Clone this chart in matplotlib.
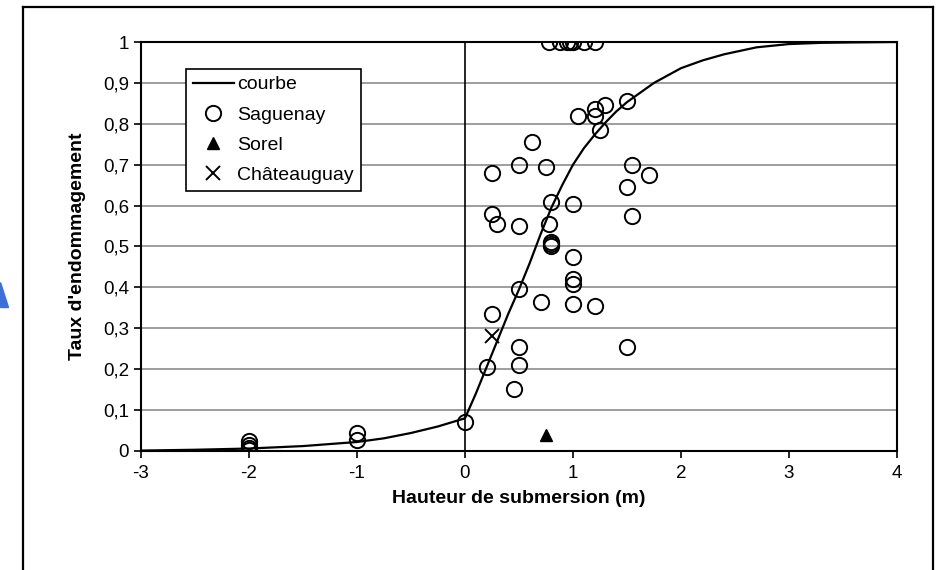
import matplotlib.pyplot as plt
from matplotlib.patches import Polygon
import numpy as np

plt.rcParams['font.family'] = ['Liberation Sans', 'DejaVu Sans']
plt.rcParams['axes.unicode_minus'] = False

# courbe
courbe_x = [-3, -2.5, -2, -1.5, -1, -0.75, -0.5, -0.25, 0, 0.1, 0.2, 0.3, 0.4,
            0.5, 0.6, 0.7, 0.8, 0.9, 1.0, 1.1, 1.2, 1.3, 1.4, 1.5, 1.75, 2.0,
            2.2, 2.4, 2.7, 3.0, 3.3, 3.6, 4.0]
courbe_y = [0.001, 0.003, 0.006, 0.012, 0.022, 0.031, 0.044, 0.06, 0.08, 0.14,
            0.205, 0.27, 0.335, 0.395, 0.46, 0.53, 0.595, 0.65, 0.70, 0.74,
            0.773, 0.803, 0.83, 0.853, 0.90, 0.936, 0.955, 0.97, 0.987, 0.995,
            0.998, 0.999, 1.0]

sag_x = [-2, -2, -2, -2, -1, -1, 0,
         0.78, 0.88, 0.94, 0.97, 1.0, 1.1, 1.2,
         0.25, 0.25, 0.3, 0.5, 0.5, 0.62, 0.75, 0.8, 0.78, 0.8, 0.8, 0.8,
         1.0, 1.0, 1.0, 1.0, 1.0, 1.2, 0.7, 0.5, 0.25, 0.2, 0.5, 0.5, 0.45,
         1.05, 1.2, 1.2, 1.3, 1.5, 1.25, 1.55, 1.7, 1.5, 1.55, 1.5]
sag_y = [0.025, 0.015, 0.008, 0.003, 0.045, 0.028, 0.07,
         1, 1, 1, 1, 1, 1, 1,
         0.68, 0.58, 0.555, 0.70, 0.55, 0.755, 0.695, 0.61, 0.555, 0.512, 0.507, 0.502,
         0.605, 0.475, 0.42, 0.408, 0.36, 0.355, 0.365, 0.395, 0.335, 0.205, 0.255, 0.21, 0.152,
         0.82, 0.835, 0.82, 0.845, 0.855, 0.785, 0.70, 0.675, 0.645, 0.575, 0.255]

sorel_x = [0.75]
sorel_y = [0.04]
chat_x = [0.25]
chat_y = [0.28]

xticks = [-3, -2, -1, 0, 1, 2, 3, 4]
yticks = [0, 0.1, 0.2, 0.3, 0.4, 0.5, 0.6, 0.7, 0.8, 0.9, 1]
ylabels = ['0', '0,1', '0,2', '0,3', '0,4', '0,5', '0,6', '0,7', '0,8', '0,9', '1']

fig = plt.figure(figsize=(9.38, 5.7), dpi=100)
ax = fig.add_axes([0.1503, 0.2088, 0.806, 0.7175])

for yv in yticks[1:-1]:
    ax.axhline(yv, color='#8c8c8c', lw=1.2, zorder=0)
ax.axvline(0, color='black', lw=1.2, zorder=1)

ax.plot(courbe_x, courbe_y, color='black', lw=1.6, label='courbe', zorder=3)
ax.plot(sag_x, sag_y, 'o', mfc='none', mec='black', mew=1.4, ms=11,
        label='Saguenay', zorder=4)
ax.plot(sorel_x, sorel_y, '^', color='black', ms=9, label='Sorel', zorder=4)
ax.plot(chat_x, chat_y, 'x', color='black', mew=1.4, ms=10,
        label='Châteauguay', zorder=4)

ax.set_xlim(-3, 4)
ax.set_ylim(0, 1)
ax.set_xticks(xticks)
ax.set_yticks(yticks)
ax.set_yticklabels(ylabels)
ax.tick_params(labelsize=13.5, direction='out', length=5, width=1.2, colors='black')
ax.tick_params(axis='x', pad=5)
for s in ax.spines.values():
    s.set_linewidth(1.5)
    s.set_color('black')

ax.set_xlabel('Hauteur de submersion (m)', fontsize=14, fontweight='bold', labelpad=6)
ax.set_ylabel("Taux d'endommagement", fontsize=14, fontweight='bold', labelpad=12)

leg = ax.legend(loc='upper left', bbox_to_anchor=(0.0595, 0.934), borderaxespad=0,
                fontsize=14, frameon=True, fancybox=False, edgecolor='black',
                framealpha=1, handlelength=2.1, handletextpad=0.2, borderpad=0.35,
                labelspacing=0.65)
leg.get_frame().set_linewidth(1.2)

# cadre extérieur
fig.add_artist(plt.Line2D([23/938, 23/938], [0, 1 - 7/570], color='black', lw=1.6))
fig.add_artist(plt.Line2D([23/938, 933/938], [1 - 7/570, 1 - 7/570], color='black', lw=1.6))
fig.add_artist(plt.Line2D([933/938, 933/938], [0, 1 - 7/570], color='black', lw=1.6))

fig.add_artist(Polygon([[0, 1 - 282/570], [0, 1 - 307/570], [8/938, 1 - 307/570]],
                       closed=True, color='#3d6fd8', transform=fig.transFigure))

fig.savefig('out.png', dpi=100)
